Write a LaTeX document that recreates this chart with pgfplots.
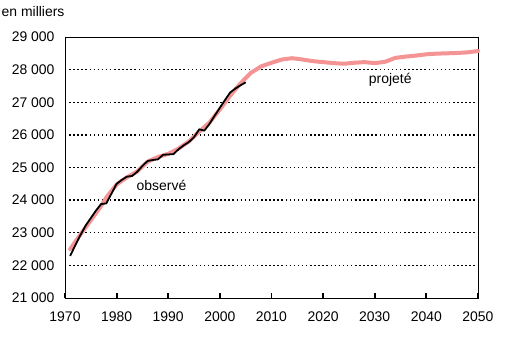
\documentclass[border=0pt]{standalone}
\usepackage{pgfplots}
\pgfplotsset{compat=1.18}
\usepackage{fontspec}
\setmainfont{Liberation Sans}
\definecolor{proj}{RGB}{244,148,148}
\begin{document}
\begin{tikzpicture}
\useasboundingbox (-65bp,-39bp) rectangle (440bp,298bp);
\begin{axis}[
  scale only axis, width=413bp, height=261bp,
  at={(0,0)}, anchor=south west,
  xmin=1970, xmax=2050, ymin=21000, ymax=29000,
  xtick={1970,1980,...,2050},
  xticklabels={1970,1980,1990,2000,2010,2020,2030,2040,2050},
  ytick={21000,22000,...,29000},
  yticklabels={21 000,22 000,23 000,24 000,25 000,26 000,27 000,28 000,29 000},
  scaled ticks=false,
  extra y ticks={22000,23000,...,28000},
  extra y tick labels={},
  extra y tick style={grid=major, major tick length=0pt, major grid style={black, line width=1.5pt, dash pattern=on 1.5pt off 2.6pt}},
  ytick style={draw=none},
  xtick pos=bottom, ytick pos=left,
  xtick style={black, line width=2pt},
  major tick length=5bp,
  tick align=inside,
  axis line style={black, line width=0.8pt},
  tick label style={font=\fontsize{14}{16}\selectfont},
  xticklabel style={yshift=-10bp},
  yticklabel style={xshift=-7bp},
  clip=false,
]
\addplot[proj, line width=4bp, line join=round, line cap=round] coordinates {
(1971,22500) (1973,22950) (1975,23380) (1977,23820) (1978,24080) (1980,24480)
(1982,24700) (1984,24880) (1986,25180) (1988,25320) (1990,25420) (1992,25580)
(1994,25800) (1996,26100) (1998,26380) (2000,26780) (2002,27200) (2004,27580)
(2006,27900) (2008,28100) (2010,28210) (2012,28310) (2014,28350) (2016,28310)
(2018,28260) (2020,28230) (2022,28200) (2024,28180) (2026,28210) (2028,28230)
(2030,28200) (2032,28240) (2034,28360) (2036,28400) (2038,28430) (2040,28470)
(2042,28490) (2044,28500) (2046,28510) (2048,28530) (2050,28570)};
\addplot[black, line width=1.8bp, line join=round] coordinates {
(1971,22290) (1972,22620) (1973,22930) (1974,23220) (1975,23450) (1976,23680)
(1977,23880) (1978,23900) (1979,24200) (1980,24500) (1981,24620) (1982,24720)
(1983,24740) (1984,24870) (1985,25050) (1986,25200) (1987,25230) (1988,25250)
(1989,25390) (1990,25400) (1991,25410) (1992,25560) (1993,25680) (1994,25780)
(1995,25930) (1996,26170) (1997,26130) (1998,26340) (1999,26590) (2000,26830)
(2001,27070) (2002,27300) (2003,27420) (2004,27520) (2005,27610)};
\node[font=\fontsize{14}{16}\selectfont] at (axis cs:1988.7,24460) {observé};
\node[font=\fontsize{14}{16}\selectfont] at (axis cs:2033,27680) {projeté};
\node[font=\fontsize{14}{16}\selectfont, anchor=west, inner sep=0pt] at (axis cs:1957.7,29780) {en milliers};
\end{axis}
\end{tikzpicture}
\end{document}
